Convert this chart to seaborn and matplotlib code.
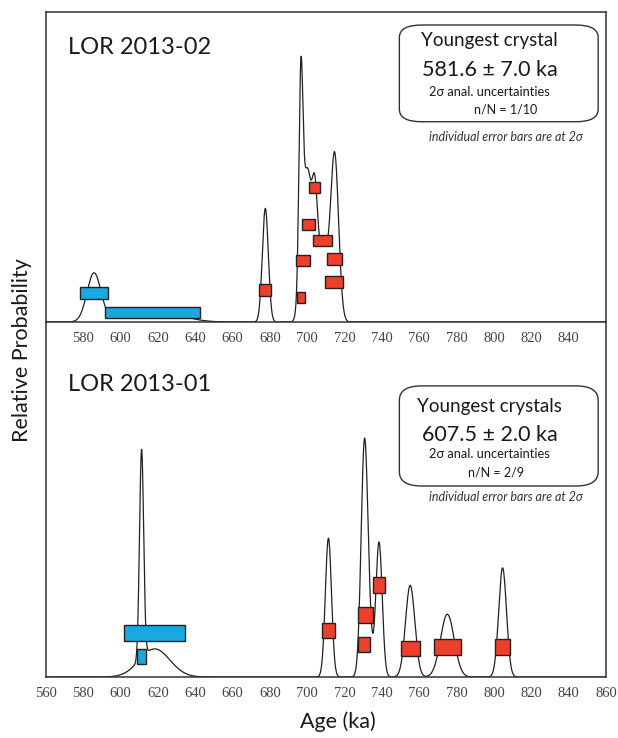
import numpy as np
import pandas as pd
import seaborn as sns
import matplotlib.pyplot as plt
from matplotlib.patches import FancyBboxPatch

# grain ages (ka), 2 sigma errors (ka), and stacking level of each error bar
top_age = [585.7, 617.2, 677.5, 696.5, 697.7, 700.6, 703.9, 708.3, 714.8, 714.3]
top_err2s = [7.5, 25.5, 3.2, 2.05, 3.7, 3.3, 3.1, 5.0, 4.0, 4.7]
top_level = [0.064, 0.021, 0.070, 0.054, 0.135, 0.214, 0.295, 0.179, 0.138, 0.088]
top_young = [True, True, False, False, False, False, False, False, False, False]

bot_age = [618.2, 611.2, 711.3, 731.4, 730.3, 738.4, 755.1, 775.0, 804.6]
bot_err2s = [16.3, 2.2, 3.3, 4.0, 3.4, 3.4, 5.0, 7.3, 4.2]
bot_level = [0.077, 0.036, 0.081, 0.108, 0.057, 0.160, 0.050, 0.052, 0.052]
bot_young = [True, True, False, False, False, False, False, False, False]

ticks = list(range(560, 861, 20))
top_ticklabels = ['' if t in (560, 860) else str(t) for t in ticks]
bot_ticklabels = [str(t) for t in ticks]

BLUE = '#1aa8e0'
RED = '#ee3e2c'
SANS = ['Lato', 'DejaVu Sans']


def rel_prob(ages, err2s, grid):
    # relative probability = sum of normal densities of each grain age
    dens = np.zeros_like(grid)
    for a, e in zip(ages, err2s):
        s = e / 2
        dens += np.exp(-0.5 * ((grid - a) / s) ** 2) / (s * np.sqrt(2 * np.pi))
    return dens


def draw_panel(ax, ages, err2s, levels, young, ymax, bar_h, ticklabels,
               name, title, value, nn):
    grid = np.arange(555, 865, 0.05)
    df = pd.DataFrame({'age': grid, 'prob': rel_prob(ages, err2s, grid)})
    sns.lineplot(data=df, x='age', y='prob', ax=ax, color='#222222', lw=0.9, zorder=2)

    lo = [a - e for a, e in zip(ages, err2s)]
    wid = [2 * e for e in err2s]
    cols = [BLUE if y else RED for y in young]
    ax.barh(levels, wid, left=lo, height=bar_h, color=cols,
            edgecolor='#222222', linewidth=1.0, zorder=3)

    ax.set_xlim(560, 860)
    ax.set_ylim(0, ymax)
    ax.set_yticks([])
    ax.set_xticks(ticks)
    ax.set_xticks(range(560, 861, 10), minor=True)
    ax.set_xticklabels(ticklabels, family='Liberation Serif', fontsize=10.5, color='#444444')
    ax.tick_params(axis='x', which='major', direction='inout', length=7, width=1, color='#333333', pad=4)
    ax.tick_params(axis='x', which='minor', direction='inout', length=5, width=0.8, color='#333333')
    ax.set_xlabel('')
    ax.set_ylabel('')
    for sp in ax.spines.values():
        sp.set_color('#333333')
        sp.set_linewidth(1.1)

    ax.text(0.039, name[1], name[0], transform=ax.transAxes, family=SANS,
            fontsize=17, va='center', ha='left', color='#1a1a1a')
    box = FancyBboxPatch((0.631, title[2]), 0.355, title[3],
                         boxstyle='round,pad=0,rounding_size=0.04',
                         transform=ax.transAxes, fc='white', ec='#333333', lw=1.0, zorder=4)
    ax.add_patch(box)
    ax.text(0.792, title[1], title[0], transform=ax.transAxes, family=SANS,
            fontsize=13.5, ha='center', va='center', color='#1a1a1a', zorder=5)
    ax.text(0.792, value[1], value[0], transform=ax.transAxes, family=SANS,
            fontsize=15.5, ha='center', va='center', color='#1a1a1a', zorder=5)
    ax.text(0.792, value[2], '2σ anal. uncertainties', transform=ax.transAxes, family=SANS,
            fontsize=9.3, ha='center', va='center', color='#1a1a1a', zorder=5)
    ax.text(nn[1], nn[2], nn[0], transform=ax.transAxes, family=SANS,
            fontsize=9, ha='center', va='center', color='#1a1a1a', zorder=5)
    ax.text(0.822, nn[3], 'individual error bars are at 2σ', transform=ax.transAxes,
            family=SANS, fontsize=9, style='italic', ha='center', va='center',
            color='#333333', zorder=5)


sns.set_style("white")
plt.rcParams['font.family'] = SANS

fig = plt.figure(figsize=(6.18, 7.38), dpi=100)
ax_top = fig.add_axes([46 / 618, 1 - 322 / 738, 560 / 618, 310 / 738])
ax_bot = fig.add_axes([46 / 618, 1 - 677 / 738, 560 / 618, 355 / 738])
ax_top.set_zorder(2)
ax_top.patch.set_alpha(0)
ax_bot.spines['top'].set_visible(False)

draw_panel(ax_top, top_age, top_err2s, top_level, top_young, 0.68, 0.025,
           top_ticklabels, ('LOR 2013-02', 0.887),
           ('Youngest crystal', 0.907, 0.646, 0.312),
           ('581.6 ± 7.0 ka', 0.813, 0.743),
           ('n/N = 1/10', 0.82, 0.687, 0.598))
draw_panel(ax_bot, bot_age, bot_err2s, bot_level, bot_young, 0.618, 0.027,
           bot_ticklabels, ('LOR 2013-01', 0.823),
           ('Youngest crystals', 0.763, 0.538, 0.282),
           ('607.5 ± 2.0 ka', 0.682, 0.628),
           ('n/N = 2/9', 0.804, 0.575, 0.507))

fig.text(22 / 618, 1 - 350 / 738, 'Relative Probability', rotation=90,
         ha='center', va='center', fontsize=15.5, color='#1a1a1a')
fig.text(338 / 618, 1 - 722 / 738, 'Age (ka)', ha='center', va='center',
         fontsize=15.5, color='#1a1a1a')

fig.savefig('out.png', dpi=100, facecolor='white')
